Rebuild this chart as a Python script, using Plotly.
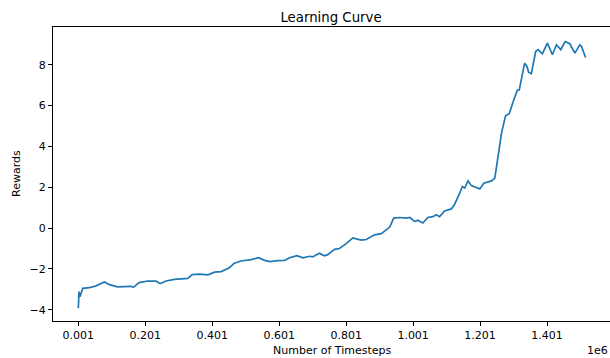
import plotly.graph_objects as go

# Data (timesteps, smoothed reward)
timesteps = [1000, 3000, 6000, 10000, 14000, 34000, 54000, 79000, 94000, 118000,
             159000, 165000, 183000, 208000, 233000, 246000, 263000, 288000, 328000, 341000,
             363000, 388000, 408000, 428000, 452000, 467000, 487000, 517000, 540000, 557000,
             574000, 597000, 617000, 632000, 654000, 672000, 692000, 701000, 721000, 736000,
             746000, 766000, 781000, 801000, 821000, 831000, 846000, 861000, 886000, 906000,
             921000, 931000, 943000, 961000, 981000, 991000, 1006000, 1015000, 1030000, 1045000,
             1060000, 1070000, 1080000, 1095000, 1115000, 1125000, 1140000, 1148000, 1155000, 1165000,
             1175000, 1200000, 1212000, 1235000, 1245000, 1255000, 1265000, 1277000, 1288000, 1300000,
             1312000, 1318000, 1325000, 1334000, 1341000, 1346000, 1354000, 1361000, 1367000, 1374000,
             1387000, 1402000, 1417000, 1429000, 1442000, 1455000, 1469000, 1484000, 1491000, 1499000,
             1504000, 1509000, 1516000]
rewards = [-3.93, -3.11, -3.36, -3.19, -2.95, -2.92, -2.83, -2.64, -2.77, -2.88,
           -2.85, -2.90, -2.67, -2.59, -2.60, -2.72, -2.59, -2.51, -2.46, -2.28,
           -2.25, -2.29, -2.16, -2.13, -1.94, -1.72, -1.61, -1.54, -1.45, -1.58,
           -1.64, -1.59, -1.58, -1.45, -1.35, -1.46, -1.38, -1.41, -1.23, -1.36,
           -1.30, -1.04, -1.00, -0.76, -0.48, -0.53, -0.59, -0.56, -0.33, -0.27,
           -0.08, 0.05, 0.49, 0.52, 0.49, 0.52, 0.32, 0.39, 0.25, 0.52,
           0.56, 0.65, 0.56, 0.84, 0.94, 1.17, 1.71, 2.04, 1.96, 2.31,
           2.08, 1.92, 2.20, 2.31, 2.45, 3.50, 4.65, 5.50, 5.60, 6.20,
           6.74, 6.77, 7.43, 8.08, 7.92, 7.64, 7.56, 8.25, 8.65, 8.74,
           8.54, 9.06, 8.49, 8.98, 8.74, 9.14, 9.03, 8.57, 8.74, 8.98,
           8.90, 8.65, 8.36]

x_tickvals = [1000, 201000, 401000, 601000, 801000, 1001000, 1201000, 1401000]
x_ticktext = ["0.001", "0.201", "0.401", "0.601", "0.801", "1.001", "1.201", "1.401"]
y_tickvals = [-4, -2, 0, 2, 4, 6, 8]
y_ticktext = ["\u22124", "\u22122", "0", "2", "4", "6", "8"]

W, H = 610, 358
L, R, T, B = 53, 0, 27, 37
pw = W - L - R
ph = H - T - B

font = dict(family="DejaVu Sans", size=11, color="black")

fig = go.Figure()
fig.add_trace(go.Scatter(x=timesteps, y=rewards, mode="lines",
                         line=dict(color="#1f77b4", width=1.7),
                         showlegend=False, hoverinfo="skip"))

axis_common = dict(showgrid=False, zeroline=False, showline=True, linecolor="black",
                   linewidth=1, ticks="outside", ticklen=4, tickwidth=1,
                   tickcolor="black", tickfont=font)

fig.update_xaxes(range=[-74650, 1589000], tickvals=x_tickvals, ticktext=x_ticktext,
                 mirror=True, **axis_common)
fig.update_yaxes(range=[-4.55, 9.85], tickvals=y_tickvals, ticktext=y_ticktext,
                 mirror=False, **axis_common)

def px_x(px):
    return (px - L) / pw

def px_y(py):
    return 1 - (py - T) / ph

fig.add_annotation(text="Number of Timesteps", xref="paper", yref="paper",
                   x=px_x(332), y=px_y(351), xanchor="center", yanchor="middle",
                   showarrow=False, font=font)
fig.add_annotation(text="Rewards", xref="paper", yref="paper",
                   x=px_x(16), y=px_y(174), xanchor="center", yanchor="middle",
                   textangle=-90, showarrow=False, font=font)
fig.add_annotation(text="1e6", xref="paper", yref="paper",
                   x=px_x(610), y=px_y(350), xanchor="right", yanchor="middle",
                   showarrow=False, font=font)

fig.update_layout(
    width=W, height=H,
    margin=dict(l=L, r=R, t=T, b=B, pad=0),
    paper_bgcolor="white", plot_bgcolor="white",
    title=dict(text="Learning Curve", x=(331) / W, xref="container",
               xanchor="center", y=1 - 17 / H, yref="container", yanchor="middle",
               font=dict(family="DejaVu Sans", size=13.3, color="black")),
    font=font,
)

fig.write_html("out.html",
               config={"displayModeBar": False},
               post_script="document.body.style.margin='0px';document.body.style.overflow='hidden';")
